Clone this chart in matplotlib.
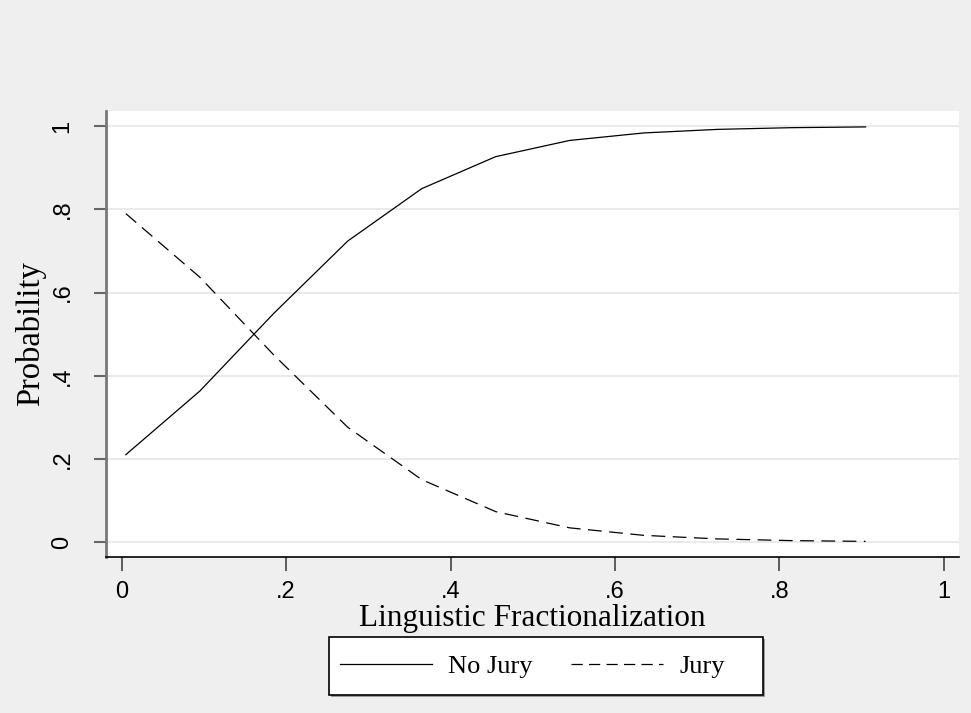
import matplotlib.pyplot as plt
from matplotlib.patches import Rectangle

# predicted probabilities by linguistic fractionalization
frac = [0.005, 0.095, 0.185, 0.275, 0.365, 0.455, 0.545, 0.635, 0.725, 0.815, 0.905]
no_jury = [0.210, 0.363, 0.550, 0.724, 0.850, 0.927, 0.966, 0.984, 0.9926, 0.9967, 0.9985]
jury = [0.790, 0.637, 0.450, 0.276, 0.150, 0.073, 0.034, 0.016, 0.0074, 0.0033, 0.0015]

xticks = [0, 0.2, 0.4, 0.6, 0.8, 1]
xtick_labels = ['0', '.2', '.4', '.6', '.8', '1']
yticks = [0, 0.2, 0.4, 0.6, 0.8, 1]
ytick_labels = ['0', '.2', '.4', '.6', '.8', '1']

bg = '#efefef'
serif = ['Liberation Serif', 'DejaVu Serif']
sans = ['Liberation Sans', 'DejaVu Sans']
W, H = 971, 713

fig = plt.figure(figsize=(W / 100, H / 100), dpi=100, facecolor=bg)
ax = fig.add_axes([105.5 / W, 1 - 557 / H, (959 - 105.5) / W, (557 - 111) / H])
ax.set_facecolor('white')

ax.plot(frac, no_jury, color='black', lw=0.9, label='No Jury')
ax.plot(frac, jury, color='black', lw=0.9, dashes=(11, 6), label='Jury')

ax.set_xlim(-0.0197, 1.0186)
ax.set_ylim(-0.0361, 1.0368)

ax.set_yticks(yticks)
ax.set_yticklabels(ytick_labels, rotation=90, va='center', family=sans, fontsize=17)
ax.set_xticks(xticks)
ax.set_xticklabels(xtick_labels, family=sans, fontsize=17)
ax.tick_params(axis='y', length=9, width=1.5, color='#666666', pad=14)
ax.tick_params(axis='x', length=10, width=1.2, color='#444444', pad=7)

for y in yticks:
    ax.axhline(y, color='#e6e6e6', lw=1.2, zorder=0)

for s in ['top', 'right']:
    ax.spines[s].set_visible(False)
ax.spines['left'].set_color('#777777')
ax.spines['left'].set_linewidth(2)
ax.spines['bottom'].set_color('black')
ax.spines['bottom'].set_linewidth(1.2)

ax.set_xlabel('Linguistic Fractionalization', family=serif, fontsize=22.5, labelpad=1)
ax.set_ylabel('Probability', family=serif, fontsize=23.5, labelpad=4)

# legend box drawn by hand so it can carry the wider right margin
fig.patches.append(Rectangle((330.5 / W, 1 - 696.5 / H), 434 / W, 58 / H,
                             transform=fig.transFigure, facecolor='#9a9a9a',
                             edgecolor='none', zorder=1))
fig.patches.append(Rectangle((329 / W, 1 - 695 / H), 434 / W, 58 / H,
                             transform=fig.transFigure, facecolor='white',
                             edgecolor='black', lw=1.2, zorder=2))

leg = fig.legend(loc='center left', bbox_to_anchor=(340 / W, 1 - 666 / H), ncol=2,
                 frameon=False, handlelength=3.5, handletextpad=0.6,
                 columnspacing=1.45, borderpad=0, borderaxespad=0,
                 prop={'family': serif, 'size': 19})
leg.set_zorder(3)
leg.legend_handles[1].set_dashes((9, 5))

fig.savefig('out.png', dpi=100, facecolor=bg)
